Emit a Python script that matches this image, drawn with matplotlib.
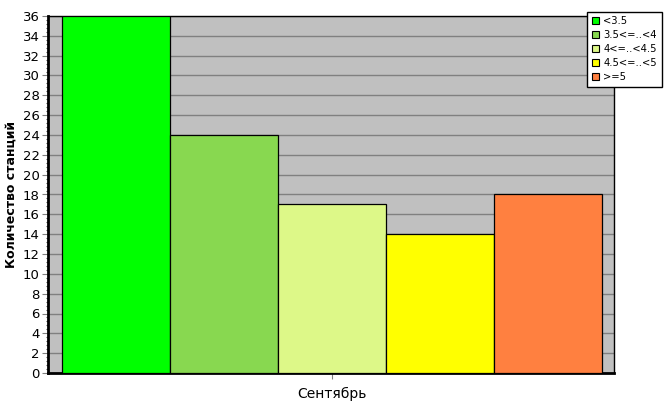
import matplotlib
matplotlib.use("Agg")
import matplotlib.pyplot as plt
from matplotlib.patches import Patch
from matplotlib.ticker import MultipleLocator, FixedLocator

categories = ["<3.5", "3.5<=..<4", "4<=..<4.5", "4.5<=..<5", ">=5"]
values = [36, 24, 17, 14, 18]
colors = ["#00FF00", "#88D850", "#DDF888", "#FFFF00", "#FF8040"]
month = "Сентябрь"

fig = plt.figure(figsize=(6.67, 4.15), dpi=100)
ax = fig.add_axes([48/667, 1-373/415, (614-48)/667, (373-16)/415])
ax.set_facecolor("#C0C0C0")

n = len(values)
positions = [i - (n - 1) / 2 for i in range(n)]
for p, v, c in zip(positions, values, colors):
    ax.bar(p, v, width=1.0, color=c, edgecolor="black", linewidth=0.9, zorder=3)

ax.set_xlim(-2.63, 2.61)
ax.set_ylim(0, 36)
ax.yaxis.set_major_locator(MultipleLocator(2))
ax.yaxis.set_minor_locator(FixedLocator([k * 0.4 for k in range(91)]))
ax.grid(axis="y", which="major", color="#808080", linewidth=1.0, zorder=1)
ax.set_xticks([0])
ax.set_xticklabels([month], fontsize=10)
ax.tick_params(axis="x", length=4, color="#808080", pad=6)
ax.tick_params(axis="y", which="major", length=4, labelsize=9.5, color="#808080", pad=2)
ax.tick_params(axis="y", which="minor", length=1.5, width=0.8, color="#505050")
for s in ["left", "bottom"]:
    ax.spines[s].set_linewidth(2)
for s in ["right", "top"]:
    ax.spines[s].set_linewidth(1)
ax.set_ylabel("Количество станций", fontsize=9, fontweight="bold", labelpad=4)

handles = [Patch(facecolor=c, edgecolor="black", linewidth=0.8) for c in colors]
leg = fig.legend(handles, categories, loc="upper left",
                 bbox_to_anchor=(587/667, 1-12/415), fontsize=7.2,
                 frameon=True, fancybox=False, edgecolor="black",
                 handlelength=0.7, handleheight=0.7, handletextpad=0.5,
                 borderpad=0.45, labelspacing=0.4, borderaxespad=0)
leg.get_frame().set_linewidth(1)
leg.get_frame().set_facecolor("white")
leg.get_frame().set_alpha(1)

fig.savefig("out.png", dpi=100)
